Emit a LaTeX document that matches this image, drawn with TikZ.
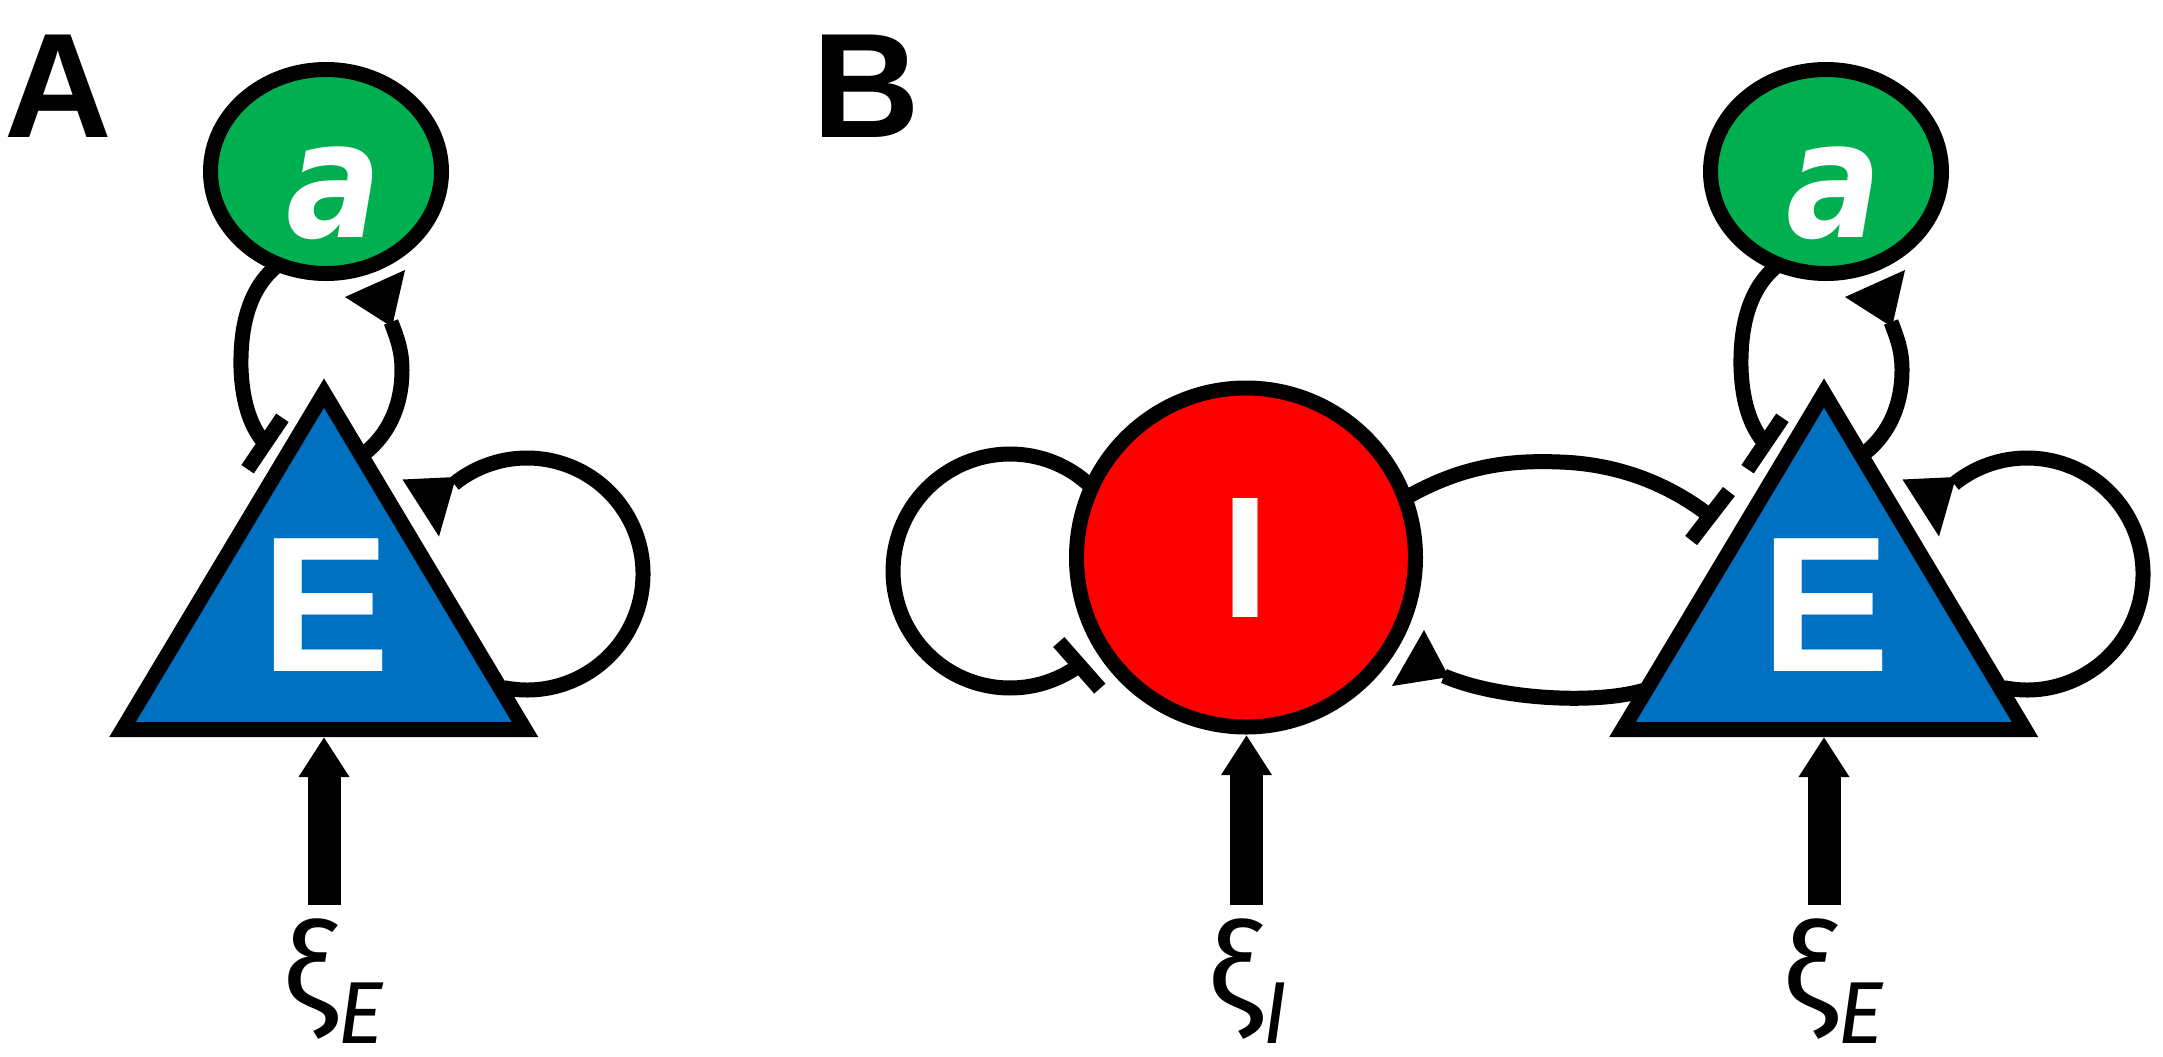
\documentclass[tikz,border=0pt]{standalone}
\usepackage{fontspec}
\setmainfont{Liberation Sans}
\newfontfamily\afam{DejaVu Sans}
\newfontfamily\xifam{Fira Sans}
\usetikzlibrary{arrows.meta,shapes.geometric,backgrounds,calc}
\definecolor{egreen}{RGB}{0,176,80}
\definecolor{eblue}{RGB}{0,112,192}
\definecolor{ired}{RGB}{255,0,0}
\newcommand\xisub[1]{ξ\raisebox{-15.5pt}{\fontsize{44pt}{44pt}\selectfont\itshape #1\kern3pt}}
\newcommand\Eunit[2]{%
  \coordinate (T#1a) at (#2+324,393);
  \coordinate (T#1b) at (#2+122.5,729.5);
  \coordinate (T#1c) at (#2+525,729.5);
  \draw[shp, fill=eblue] (T#1a) -- (T#1b) -- (T#1c) -- cycle;
  \node[Etext] (E#1) at (#2+325.5,671) {E};
  \node[shp, ellipse, fill=egreen, minimum width=115.5pt, minimum height=102pt] (a#1) at (#2+326,171.5) {};
  \node[atext] (a#1t) at (#2+334,237.5) {\scalebox{0.87}[1]{a}};
  \coordinate (E#1in) at (#2+324,737);
  \coordinate (E#1src) at (#2+324,905);
  \draw[inp] (E#1src) -- (E#1in);
  \node[xilbl] (xi#1) at (#2+274,1012) {\xisub{E}};
  \coordinate (sEa#1) at (#2+358,458);
  \coordinate (tEa#1) at (#2+391,322);
  \coordinate (taE#1) at (#2+263,441);
  \coordinate (sEE#1) at (#2+504.1,687.7);
  \begin{pgfonlayer}{background}
    \draw[conn] (sEa#1) .. controls (#2+385,440) and (#2+402,410) .. (#2+402,370)
       .. controls (#2+402,352) and (#2+398,340) .. (tEa#1);
    \fill (#2+392,327) -- (#2+345,297) -- (#2+405,270) -- cycle;
    \draw[conn] (a#1.243) .. controls (#2+252,285) and (#2+240,320) .. (#2+241,368)
       .. controls (#2+242,398) and (#2+249,424) .. (taE#1)
       (#2+282.4,417.8) -- (#2+247.6,469.2);
    \draw[conn] (sEE#1) arc[start angle=101.4, end angle=-129, radius=116];
    \fill (#2+456,477) -- (#2+402.5,479.5) -- (#2+439,536.5) -- cycle;
  \end{pgfonlayer}
}
\begin{document}
\begin{tikzpicture}[x=0.5pt,y=-0.5pt, line join=miter,
  shp/.style={draw=black, line width=7.5pt, outer sep=0pt, inner sep=0pt},
  conn/.style={draw=black, line width=7.5pt},
  inp/.style={draw=black, line width=16.5pt, -{Triangle[length=20pt,width=24pt]}},
  panel/.style={font=\fontsize{74.5pt}{74.5pt}\selectfont\bfseries, inner sep=0pt, anchor=base},
  Etext/.style={font=\fontsize{96.5pt}{96.5pt}\selectfont\bfseries, text=white, inner sep=0pt, anchor=base},
  atext/.style={font=\afam\fontsize{81pt}{81pt}\selectfont\bfseries\itshape, text=white, inner sep=0pt, anchor=base},
  Itext/.style={font=\fontsize{86.5pt}{86.5pt}\selectfont\bfseries, text=white},
  xilbl/.style={font=\xifam\fontsize{62.5pt}{62.5pt}\selectfont, inner sep=4pt, anchor=base west}]
\useasboundingbox (0,0) rectangle (2163,1056);
\node[panel] (pA) at (58.5,137) {A};
\node[panel] (pB) at (866.5,137) {B};
\Eunit{A}{0}
\Eunit{B}{1500}
\node[shp, circle, fill=ired, minimum size=169.5pt, Itext] (IB) at (1246,557.5) {I};
\coordinate (IBin) at (1246.5,735);
\coordinate (IBsrc) at (1246.5,905);
\draw[inp] (IBsrc) -- (IBin);
\node[xilbl] (xiI) at (1199,1012) {\xisub{I}};
\coordinate (sII) at (1095.6,491.2);
\coordinate (tII) at (1079.3,665.3);
\coordinate (tIE) at (1710,516);
\coordinate (sEI) at (1648,689);
\coordinate (tEI) at (1444,676);
\begin{pgfonlayer}{background}
  \draw[conn] (sII) arc[start angle=-43, end angle=-306.3, radius=117]
     (1099.8,688.6) -- (1058.8,642);
  \draw[conn] ($(IB.center)!0.96!(IB.20)$) .. controls (1460,465) and (1510,460) .. (1560,462)
     .. controls (1620,464) and (1670,485) .. (tIE)
     (1728.9,491.5) -- (1691.1,540.5);
  \draw[conn] (sEI) .. controls (1600,705) and (1500,700) .. (tEI);
  \fill (1449,677) -- (1424,630) -- (1392,686) -- cycle;
\end{pgfonlayer}
\end{tikzpicture}
\end{document}
